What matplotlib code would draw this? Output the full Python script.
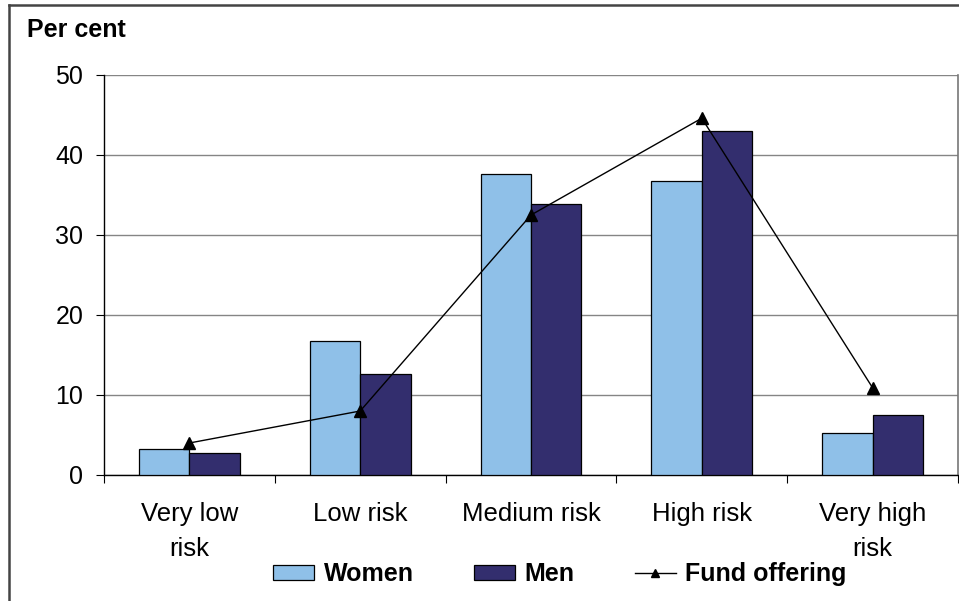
import numpy as np
import matplotlib
matplotlib.use("Agg")
import matplotlib.pyplot as plt
from matplotlib.lines import Line2D

plt.rcParams["font.family"] = ["Liberation Sans", "DejaVu Sans"]

# risk categories and shares (per cent)
categories = ["Very low\nrisk", "Low risk", "Medium risk", "High risk", "Very high\nrisk"]
women = [3.3, 16.8, 37.6, 36.7, 5.3]
men = [2.8, 12.6, 33.9, 43.0, 7.5]
fund_offering = [4.0, 8.0, 32.5, 44.6, 10.9]

c_women = "#8fc0e8"
c_men = "#332e6e"

fig = plt.figure(figsize=(9.59, 6.01), dpi=100)
W, H = 959, 601
ax = fig.add_axes([104 / W, (H - 475) / H, (958 - 104) / W, 400 / H])

x = np.arange(len(categories))
bw = 0.295
b1 = ax.bar(x - bw / 2, women, bw, color=c_women, edgecolor="black", linewidth=0.9, zorder=3)
b2 = ax.bar(x + bw / 2, men, bw, color=c_men, edgecolor="black", linewidth=0.9, zorder=3)
l1, = ax.plot(x, fund_offering, color="black", linewidth=1.0, marker="^", markersize=8, zorder=4)

ax.set_xlim(-0.5, len(categories) - 0.5)
ax.set_ylim(0, 50)
ax.set_yticks(np.arange(0, 51, 10))
ax.yaxis.grid(True, color="#858585", linewidth=1.0)
ax.set_axisbelow(True)

# category ticks sit on the boundaries between groups
ax.set_xticks(np.arange(len(categories) + 1) - 0.5, minor=False)
ax.set_xticklabels([])
ax.set_xticks(x, minor=True)
ax.set_xticklabels(categories, minor=True, fontsize=18.5, linespacing=1.6)
ax.tick_params(axis="x", which="major", length=6, direction="out", color="black")
ax.tick_params(axis="x", which="minor", length=0, pad=19.5)
ax.tick_params(axis="y", length=6, direction="out", pad=9, labelsize=18)

ax.spines["top"].set_visible(False)
ax.spines["right"].set_color("#777777")
ax.spines["right"].set_linewidth(1.2)
ax.spines["left"].set_linewidth(1.0)
ax.spines["bottom"].set_linewidth(1.0)

fig.text(27 / W, 1 - 30 / H, "Per cent", fontsize=18, fontweight="bold", va="center", ha="left")

# outer chart frame (left and top edges)
fig.add_artist(Line2D([9 / W, 9 / W], [0, 1 - 5 / H], transform=fig.transFigure, color="#444444", linewidth=1.8))
fig.add_artist(Line2D([9 / W, 1], [1 - 5 / H, 1 - 5 / H], transform=fig.transFigure, color="#444444", linewidth=1.8))

fig.legend([b1, b2, l1], ["Women", "Men", "Fund offering"], loc="center",
           bbox_to_anchor=(560 / W, (H - 574) / H), ncol=3, frameon=False,
           prop={"weight": "bold", "size": 18}, handlelength=1.65, handleheight=0.56,
           handletextpad=0.38, columnspacing=2.4, markerscale=0.75)

fig.savefig("out.png", dpi=100)
